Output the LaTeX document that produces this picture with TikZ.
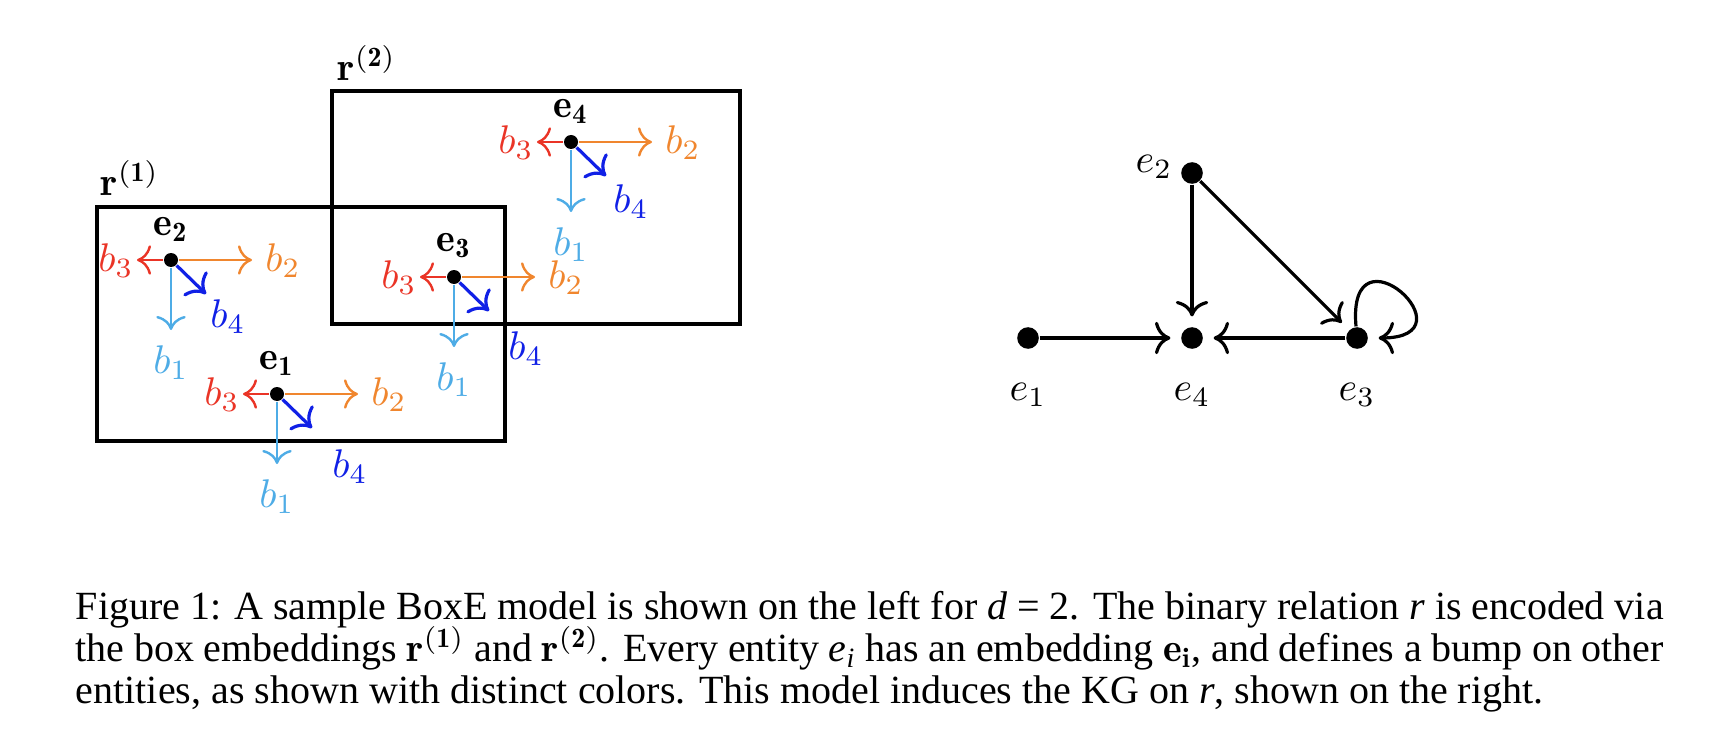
\documentclass[tikz,border=0pt]{standalone}
\usepackage{amsmath, amssymb}
\usepackage{fontspec}
\newfontfamily\captionfont{Liberation Serif}
\usetikzlibrary{arrows.meta, positioning, calc}
\definecolor{bred}{RGB}{234,52,38}
\definecolor{borange}{RGB}{240,134,46}
\definecolor{bsky}{RGB}{78,172,230}
\definecolor{bblue}{RGB}{16,32,230}

\begin{document}
\begin{tikzpicture}[
    x=0.25pt, y=-0.25pt,
    vtx/.style={circle, fill=black, inner sep=0pt, minimum size=3.5pt},
    gvtx/.style={circle, fill=black, inner sep=0pt, minimum size=5.4pt},
    blab/.style={inner sep=1pt},
    boxe/.style={draw=black, line width=1.1pt},
    arr/.style={-{To[scale=1.2]}, line width=0.6pt},
    garr/.style={-{To[scale=1.15]}, line width=0.8pt, shorten >=2.5pt}
]
\useasboundingbox (0,0) rectangle (1732,748);
% Box embeddings r^(1) and r^(2)
\draw[boxe] (97,207) rectangle (505,441);
\draw[boxe] (332,91) rectangle (740,324);
\node (r1) at (130,178) {$\mathbf{r}^{\mathbf{(1)}}$};
\node (r2) at (367,63)  {$\mathbf{r}^{\mathbf{(2)}}$};
% Entity points e_i with their bumps b_1..b_4
\foreach \n/\px/\py/\d in {1/277/394/73, 2/171/260/57, 3/454/277/72, 4/571/142/60} {
    \node[vtx] (e\n) at (\px,\py) {};
    \node[blab] (e\n lab) at ($(e\n)+(0,-31)$) {$\mathbf{e_{\n}}$};
    \coordinate (e\n b1) at ($(e\n)+(0,70)$);
    \coordinate (e\n b2) at ($(e\n)+(81,0)$);
    \coordinate (e\n b3) at ($(e\n)+(-34,0)$);
    \coordinate (e\n b4) at ($(e\n)+(35,34)$);
    \draw[arr, bsky]    (e\n) -- (e\n b1);
    \draw[arr, borange] (e\n) -- (e\n b2);
    \draw[arr, bred]    (e\n) -- (e\n b3);
    \draw[arr, bblue, line width=0.8pt] (e\n) -- (e\n b4);
    \node[blab, text=bsky]    (e\n l1) at ($(e\n)+(0,103)$)   {$b_1$};
    \node[blab, text=borange] (e\n l2) at ($(e\n)+(112,1)$)   {$b_2$};
    \node[blab, text=bred]    (e\n l3) at ($(e\n)+(-55,1)$)   {$b_3$};
    \node[blab, text=bblue]   (e\n l4) at ($(e\n)+(\d,\d)$)   {$b_4$};
}
% Induced knowledge graph on r
\node[gvtx, label={[label distance=5pt]below:$e_1$}] (g1) at (1028,338) {};
\node[gvtx, label={[label distance=5pt]below:$e_4$}] (g4) at (1192,338) {};
\node[gvtx, label={[label distance=5pt]below:$e_3$}] (g3) at (1357,338) {};
\node[gvtx, label={[label distance=-1.5pt, yshift=1.5pt]left:$e_2$}] (g2) at (1192,173) {};
\draw[garr] (g1) -- (g4);
\draw[garr] (g2) -- (g4);
\draw[garr] (g3) -- (g4);
\draw[garr] (g2) -- (g3);
\draw[garr] (g3.95) to[out=95, in=0, distance=27pt] (g3.east);
% Caption
\node[anchor=north west, inner sep=0pt, text width=397pt, align=justify,
      font=\captionfont\fontsize{10pt}{10.4pt}\selectfont] (cap) at (75,591)
{Figure 1: A sample BoxE model is shown on the left for \textit{d} = 2. The binary relation \textit{r} is encoded via\linebreak
the box embeddings \smash{$\mathbf{r}^{\mathbf{(1)}}$} and \smash{$\mathbf{r}^{\mathbf{(2)}}$}. Every entity \textit{e}\textsubscript{\textit{i}} has an embedding $\mathbf{e_i}$, and defines a bump on other\linebreak
entities, as shown with distinct colors. This model induces the KG on \textit{r}, shown on the right.};
\end{tikzpicture}
\end{document}
